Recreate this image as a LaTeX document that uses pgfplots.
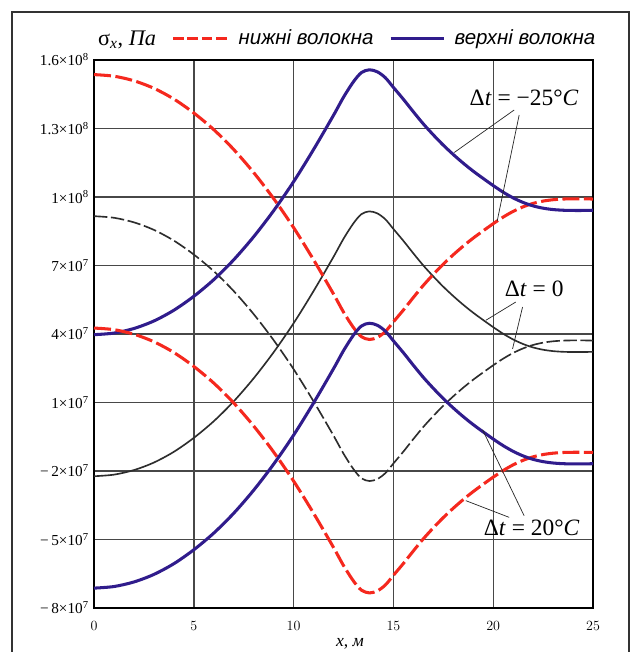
\documentclass[border=0pt]{standalone}
\usepackage{fontspec}
\setmainfont{Liberation Serif}
\newfontfamily\legfont{Liberation Sans}
\usepackage{pgfplots}
\usepackage{pgfplotstable}
\pgfplotsset{compat=1.18}

\definecolor{cred}{RGB}{245,40,30}
\definecolor{cblue}{RGB}{48,28,140}
\definecolor{cblk}{RGB}{45,45,45}

\pgfplotsset{
  redleg/.style={legend image code/.code={\draw[##1, dash pattern=on 3.2mm off 1.1mm] (0mm,0mm) -- (16.5mm,0mm);}},
}

% sigma_x in units of 1e7 Pa; bt/bb = upper fibres (blue), rt/rb = lower fibres (red), ks/kd = dt=0
\pgfplotstableread{
x     bt     ks     bb     rt     kd     rb
0     3.97  -2.23  -7.13  15.36   9.16   4.26
1     4.04  -2.16  -7.06  15.29   9.09   4.19
2     4.24  -1.96  -6.86  15.09   8.89   3.99
3     4.57  -1.63  -6.53  14.76   8.56   3.66
4     5.04  -1.16  -6.06  14.29   8.09   3.19
5     5.65  -0.55  -5.45  13.68   7.48   2.58
6     6.38   0.18  -4.72  12.95   6.75   1.85
7     7.25   1.05  -3.85  12.08   5.88   0.98
8     8.26   2.06  -2.84  11.07   4.87  -0.03
9     9.40   3.20  -1.70   9.93   3.73  -1.17
10   10.67   4.47  -0.43   8.66   2.46  -2.44
11   12.08   5.88   0.98   7.25   1.05  -3.85
12   13.58   7.38   2.48   5.75  -0.45  -5.35
12.5 14.37   8.17   3.27   4.96  -1.24  -6.14
13   15.05   8.85   3.95   4.28  -1.92  -6.82
13.4 15.45   9.25   4.35   3.88  -2.32  -7.22
13.8 15.57   9.37   4.47   3.76  -2.44  -7.34
14.2 15.48   9.28   4.38   3.85  -2.35  -7.25
14.6 15.22   9.02   4.12   4.11  -2.09  -6.99
15   14.80   8.60   3.70   4.53  -1.67  -6.57
15.5 14.28   8.08   3.18   5.05  -1.15  -6.05
16   13.73   7.53   2.63   5.60  -0.60  -5.50
16.5 13.20   7.00   2.10   6.13  -0.07  -4.97
17   12.72   6.52   1.62   6.61   0.41  -4.49
17.5 12.27   6.07   1.17   7.06   0.86  -4.04
18   11.86   5.66   0.76   7.47   1.27  -3.63
18.5 11.48   5.28   0.38   7.85   1.65  -3.25
19   11.13   4.93   0.03   8.20   2.00  -2.90
19.5 10.81   4.61  -0.29   8.52   2.32  -2.58
20   10.50   4.30  -0.60   8.83   2.63  -2.27
20.5 10.21   4.01  -0.89   9.12   2.92  -1.98
21    9.96   3.76  -1.14   9.37   3.17  -1.73
21.5  9.76   3.56  -1.34   9.57   3.37  -1.53
22    9.61   3.41  -1.49   9.72   3.52  -1.38
22.5  9.51   3.31  -1.59   9.82   3.62  -1.28
23    9.45   3.25  -1.65   9.88   3.68  -1.22
23.5  9.42   3.22  -1.68   9.91   3.71  -1.19
24    9.41   3.21  -1.69   9.92   3.72  -1.18
24.5  9.41   3.21  -1.69   9.92   3.72  -1.18
25    9.42   3.22  -1.68   9.91   3.71  -1.19
}\sigmadata

\newcommand\sx[1]{10\textsuperscript{#1}}

\begin{document}
\begin{tikzpicture}[x=0.3mm,y=0.3mm]
\useasboundingbox (-94,-44) rectangle (538,608);
\fill[white] (-94,-44) rectangle (538,608);
\draw[line width=2.2pt,black!80] (-82,-70) -- (-82,596) -- (535,596) -- (535,-70);
\begin{axis}[
  at={(0,0)}, anchor=south west,
  scale only axis,
  width=149.7mm, height=164.4mm,
  xmin=0, xmax=25, ymin=-8, ymax=16,
  xtick={0,5,...,25},
  ytick={-8,-5,...,16},
  yticklabels={−\,8×\sx{7}, −\,5×\sx{7}, −\,2×\sx{7}, 1×\sx{7}, 4×\sx{7}, 7×\sx{7}, 1×\sx{8}, 1.3×\sx{8}, 1.6×\sx{8}},
  major tick length=0pt,
  grid=major,
  grid style={draw=black!72, line width=1.2pt},
  axis line style={line width=2.4pt, black},
  tick label style={font=\fontsize{13}{15}\selectfont},
  xticklabel style={yshift=-8pt},
  yticklabel style={xshift=-1pt},
  xlabel={\textit{x}, \textit{м}},
  xlabel style={font=\fontsize{15}{17}\selectfont, at={(axis description cs:0.513,0)}, anchor=center, yshift=-31pt},
  clip=false,
  legend columns=2,
  legend style={at={(axis description cs:0.148,1.04)}, anchor=west, draw=none, fill=none,
    font=\legfont\itshape\fontsize{17.5}{19}\selectfont,
    /tikz/every odd column/.append style={column sep=2mm},
    /tikz/every even column/.append style={column sep=4mm}},
  legend image code/.code={\draw[#1] (0mm,0mm) -- (16mm,0mm);},
]
\addplot[cblk, line width=1.4pt, smooth, forget plot] table[x=x,y=ks] {\sigmadata};
\addplot[cblk, line width=1.4pt, smooth, dash pattern=on 4mm off 1.1mm, forget plot] table[x=x,y=kd] {\sigmadata};
\addplot[cred, line width=2.6pt, smooth, dash pattern=on 5.1mm off 1.35mm, redleg] table[x=x,y=rt] {\sigmadata};
\addlegendentry{нижні волокна}
\addplot[cblue, line width=2.6pt, smooth] table[x=x,y=bt] {\sigmadata};
\addlegendentry{верхні волокна}
\addplot[cred, line width=2.6pt, smooth, dash pattern=on 5.1mm off 1.35mm, forget plot] table[x=x,y=rb] {\sigmadata};
\addplot[cblue, line width=2.6pt, smooth, forget plot] table[x=x,y=bb] {\sigmadata};

\node[anchor=west, font=\fontsize{19}{21}\selectfont] at (axis cs:0.0,16.9) {σ\textsubscript{\textit{x}}, \textit{Па}};

\begin{scope}[font=\fontsize{20}{22}\selectfont]
\node at (axis cs:21.55,14.33) {Δ\textit{t} = −25°\textit{C}};
\node at (axis cs:22.05,5.96) {Δ\textit{t} = 0};
\node at (axis cs:21.93,-4.48) {Δ\textit{t} = 20°\textit{C}};
\end{scope}
\begin{scope}[line width=0.6pt, black!85]
\draw (axis cs:21.05,13.81) -- (axis cs:18.05,11.95);
\draw (axis cs:21.30,13.59) -- (axis cs:20.20,8.95);
\draw (axis cs:21.13,5.40) -- (axis cs:19.63,4.60);
\draw (axis cs:21.47,5.18) -- (axis cs:20.97,3.35);
\draw (axis cs:20.80,-4.03) -- (axis cs:18.63,-3.30);
\draw (axis cs:21.55,-3.96) -- (axis cs:19.47,-0.20);
\end{scope}
\end{axis}
\end{tikzpicture}
\end{document}
